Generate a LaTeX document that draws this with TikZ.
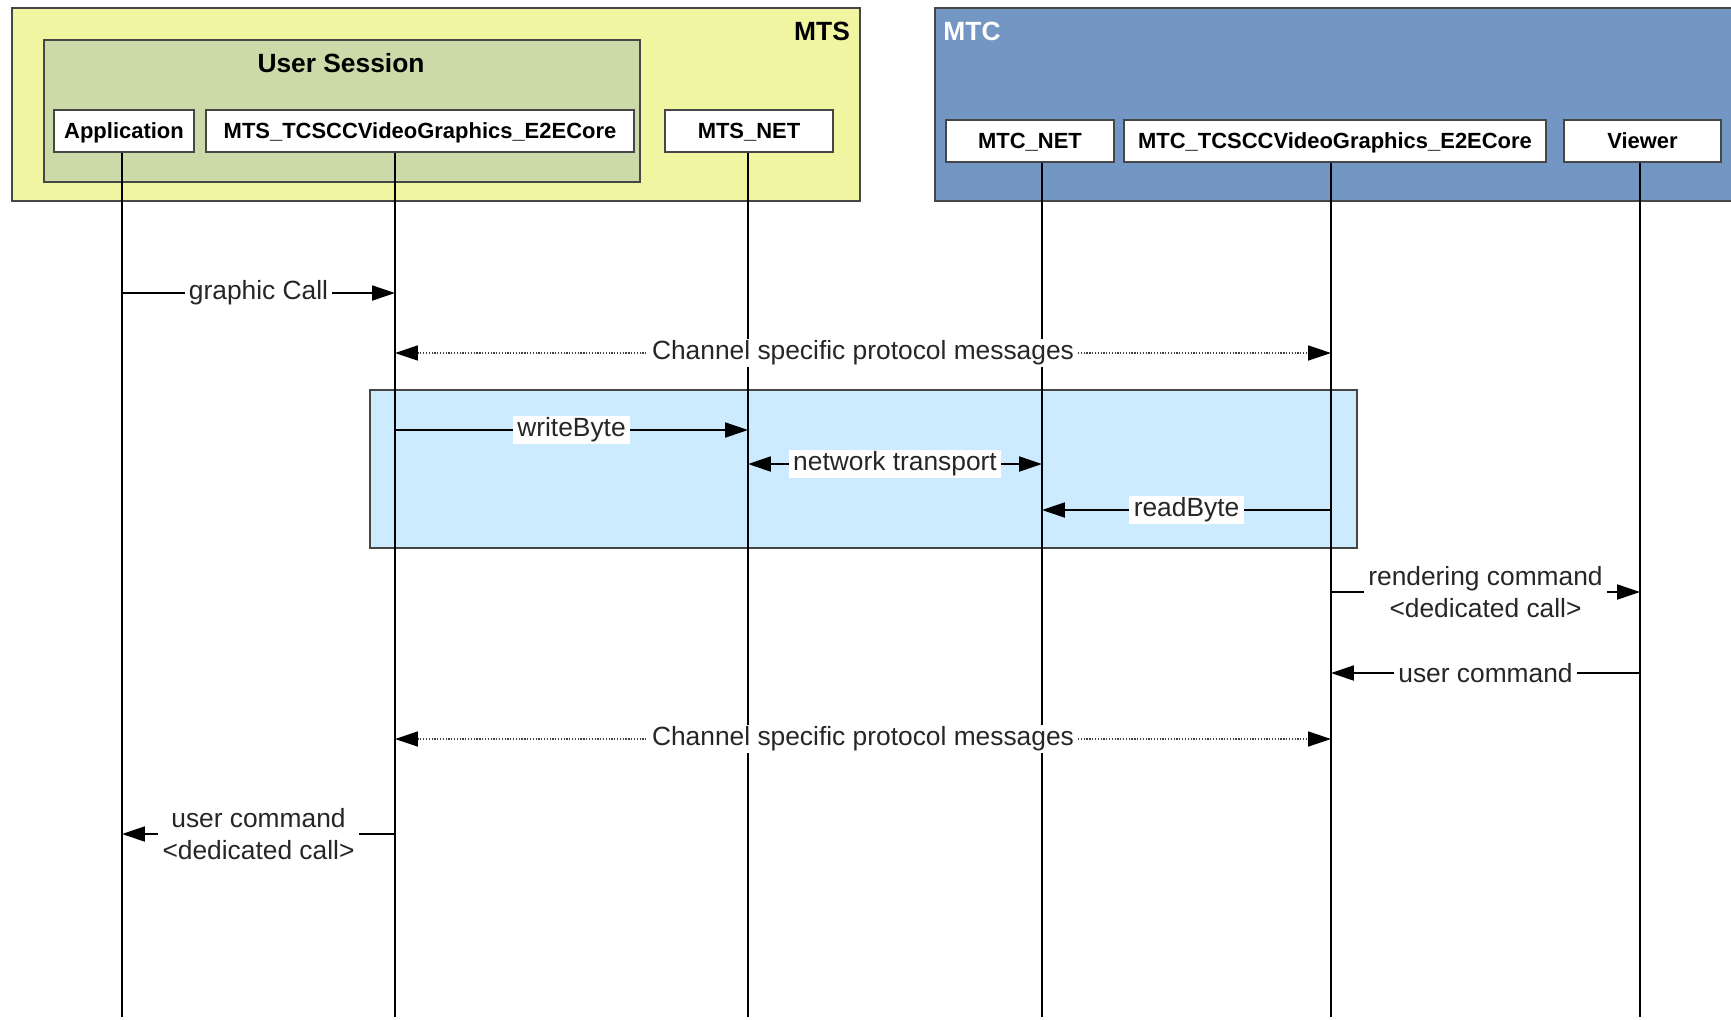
\documentclass[tikz,border=0pt]{standalone}
\usepackage{fontspec}
\setmainfont{Liberation Sans}
\usepackage{tikz}
\usetikzlibrary{arrows.meta, calc, positioning}

\definecolor{mtsyellow}{RGB}{239,245,160}
\definecolor{sessgreen}{RGB}{203,218,168}
\definecolor{mtcblue}{RGB}{116,150,195}
\definecolor{netblue}{RGB}{204,235,255}
\definecolor{edgegray}{RGB}{70,70,70}

\tikzset{
  part/.style={draw=edgegray, fill=white, line width=0.7pt, inner sep=0pt,
    minimum height=0.84cm, text height=9pt, text depth=0pt,
    font=\fontsize{12.5}{15}\selectfont\bfseries},
  grp/.style={draw=edgegray, line width=0.9pt, inner sep=0pt},
  ttl/.style={font=\fontsize{15}{18}\selectfont\bfseries},
  life/.style={line width=1.1pt},
  msg/.style={line width=1.1pt},
  proto/.style={line width=0.9pt, draw=black!75, dash pattern=on 0.7pt off 0.9pt,
    {Triangle[length=13pt,width=8.5pt,color=black]}-{Triangle[length=13pt,width=8.5pt,color=black]}},
  lbl/.style={fill=white, inner xsep=2.5pt, inner ysep=1pt, align=center,
    text=black!85, font=\fontsize{15}{18}\selectfont},
}

\begin{document}
\begin{tikzpicture}[>={Triangle[length=13pt,width=8.5pt]}, x=0.02cm, y=-0.02cm]
    \useasboundingbox (0,0) rectangle (1731,1019);
    \clip (0,0) rectangle (1731,1019);

    % Server side
    \node[grp, fill=mtsyellow, minimum width=16.96cm, minimum height=3.86cm] (mts) at (436,104.5) {};
    \node[ttl] (mtsLbl) at (822,31) {MTS};
    \node[grp, fill=sessgreen, minimum width=11.92cm, minimum height=2.84cm] (sess) at (342,111) {};
    \node[ttl] (sessLbl) at (341,63) {User Session};
    \node[part, minimum width=2.8cm] (app) at (124,131) {Application};
    \node[part, minimum width=8.56cm] (score) at (420,131) {MTS\_TCSCCVideoGraphics\_E2ECore};
    \node[part, minimum width=3.36cm] (snet) at (749,131) {MTS\_NET};

    % Client side
    \node[grp, fill=mtcblue, minimum width=16.2cm, minimum height=3.86cm] (mtc) at (1340,104.5) {};
    \node[ttl, text=white] (mtcLbl) at (972,31) {MTC};
    \node[part, minimum width=3.36cm] (cnet) at (1030,141) {MTC\_NET};
    \node[part, minimum width=8.44cm] (ccore) at (1335,141) {MTC\_TCSCCVideoGraphics\_E2ECore};
    \node[part, minimum width=3.14cm] (view) at (1642.5,141) {Viewer};

    % Network part
    \node[draw=edgegray, fill=netblue, line width=0.7pt, minimum width=19.74cm, minimum height=3.16cm] (netbox) at (863.5,469) {};

    % Lifelines
    \foreach \b/\x in {app/122, score/395, snet/748, cnet/1042, ccore/1331, view/1640} {
        \coordinate (x-\b) at (\x,1017);
        \draw[life] (\b.south -| x-\b) -- (x-\b);
    }

    % Message rows
    \foreach \r/\y in {1/293, 2/353, 3/430, 4/464, 5/510, 6/592, 7/673, 8/739, 9/834}
        \coordinate (r\r) at (0,\y);

    % Messages
    \draw[msg, ->] (x-app |- r1) -- node[lbl] {graphic Call} (x-score |- r1);
    \draw[proto] (x-score |- r2) -- node[lbl] {Channel specific protocol messages} (x-ccore |- r2);
    \draw[msg, ->] (x-score |- r3) -- node[lbl] {writeByte} (x-snet |- r3);
    \draw[msg, <->] (x-snet |- r4) -- node[lbl] {network transport} (x-cnet |- r4);
    \draw[msg, ->] (x-ccore |- r5) -- node[lbl] {readByte} (x-cnet |- r5);
    \draw[msg, ->] (x-ccore |- r6) -- node[lbl] {rendering command\\<dedicated call>} (x-view |- r6);
    \draw[msg, ->] (x-view |- r7) -- node[lbl] {user command} (x-ccore |- r7);
    \draw[proto] (x-score |- r8) -- node[lbl] {Channel specific protocol messages} (x-ccore |- r8);
    \draw[msg, ->] (x-score |- r9) -- node[lbl] {user command\\<dedicated call>} (x-app |- r9);

\end{tikzpicture}
\end{document}
